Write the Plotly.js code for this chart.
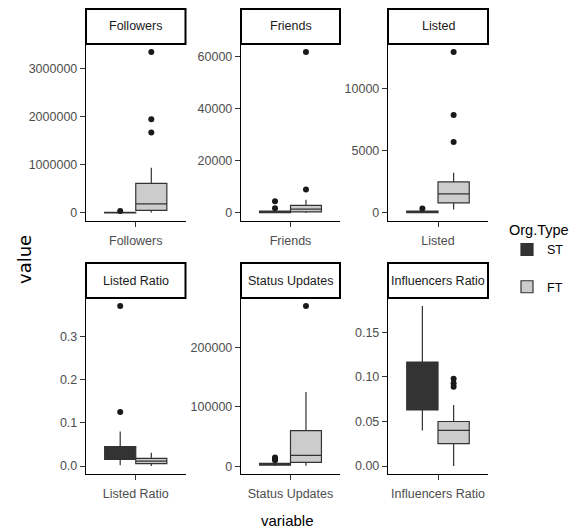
<!DOCTYPE html>
<html><head><meta charset="utf-8">
<script src="https://cdn.plot.ly/plotly-3.0.1.min.js"></script>
<style>html,body{margin:0;padding:0;background:#fff}#chart{width:578px;height:531px}</style>
</head><body><div id="chart"></div>
<script>
// ---- data ----
const variables = ["Followers", "Friends", "Listed", "Listed Ratio", "Status Updates", "Influencers Ratio"];
const orgTypes = ["ST", "FT"];

const stLowerFence = [0, 0, 0, 0.002, 500, 0.040];
const stQ1 = [2000, 100, 20, 0.0154, 2000, 0.063];
const stMedian = [8000, 300, 60, 0.025, 3000, 0.080];
const stQ3 = [15000, 700, 150, 0.0446, 5000, 0.1167];
const stUpperFence = [25000, 1300, 250, 0.080, 7000, 0.1797];
const stOutliers = [[40000], [1800, 4500], [350], [0.125, 0.370], [10000, 13000, 15000], []];

const ftLowerFence = [10000, 0, 270, 0.0, 1000, 0.0];
const ftQ1 = [55000, 400, 810, 0.0055, 6700, 0.0252];
const ftMedian = [188000, 1500, 1540, 0.0115, 18300, 0.040];
const ftQ3 = [614000, 2900, 2500, 0.0177, 60000, 0.050];
const ftUpperFence = [942000, 5100, 3240, 0.0306, 125000, 0.0685];
const ftOutliers = [[1675000, 1950000, 3350000], [9000, 61900], [5730, 7900, 12980], [], [269500], [0.089, 0.093, 0.098]];

const yTickVals = [[0, 1000000, 2000000, 3000000], [0, 20000, 40000, 60000], [0, 5000, 10000],
                   [0, 0.1, 0.2, 0.3], [0, 100000, 200000], [0, 0.05, 0.10, 0.15]];
const yTickText = [["0", "1000000", "2000000", "3000000"], ["0", "20000", "40000", "60000"], ["0", "5000", "10000"],
                   ["0.0", "0.1", "0.2", "0.3"], ["0", "100000", "200000"], ["0.00", "0.05", "0.10", "0.15"]];

// ---- layout / style ----
const W = 578, H = 531;
const FONT = '"Liberation Sans", Arial, sans-serif';
const colPx = [[86, 185.5], [241, 340], [388, 488]];
const rowPx = [[44, 221], [298, 474]];
const STRIP_H = 35;
const GROUP_WIDTH = 0.75;          // ggplot default box width (dodged)
const fills = {ST: "#333333", FT: "#CCCCCC"};
const series = {
  ST: {lf: stLowerFence, q1: stQ1, med: stMedian, q3: stQ3, uf: stUpperFence, out: stOutliers},
  FT: {lf: ftLowerFence, q1: ftQ1, med: ftMedian, q3: ftQ3, uf: ftUpperFence, out: ftOutliers}
};
const px2x = p => p / W;
const px2y = p => 1 - p / H;

const traces = [];
const layout = {
  width: W, height: H,
  margin: {l: 0, r: 0, t: 0, b: 0},
  paper_bgcolor: "#fff", plot_bgcolor: "#fff",
  boxmode: "overlay",
  showlegend: true,
  legend: {
    x: px2x(507), y: px2y(216), xanchor: "left", yanchor: "top",
    title: {text: "Org.Type", font: {family: FONT, size: 14.5, color: "#000"}},
    font: {family: FONT, size: 12.5, color: "#000"},
    tracegroupgap: 18, bgcolor: "rgba(0,0,0,0)"
  },
  shapes: [], annotations: []
};

const slotWidth = GROUP_WIDTH / orgTypes.length;

variables.forEach((v, i) => {
  const k = i + 1;
  const ax = k === 1 ? "" : String(k);
  const col = colPx[i % 3], row = rowPx[Math.floor(i / 3)];
  let lo = Infinity, hi = -Infinity;

  orgTypes.forEach((o, j) => {
    const s = series[o];
    const off = -GROUP_WIDTH / 2 + slotWidth * (j + 0.5);   // dodge position within the category
    traces.push({
      type: "box", name: o, legendgroup: o, showlegend: i === 0,
      x: [off], width: slotWidth,
      q1: [s.q1[i]], median: [s.med[i]], q3: [s.q3[i]],
      lowerfence: [s.lf[i]], upperfence: [s.uf[i]],
      boxpoints: false, whiskerwidth: 0,
      fillcolor: fills[o], line: {color: "#333333", width: 1.2},
      xaxis: "x" + ax, yaxis: "y" + ax
    });
    if (s.out[i].length) {
      traces.push({
        type: "scatter", mode: "markers", name: o, legendgroup: o, showlegend: false,
        x: s.out[i].map(() => off), y: s.out[i],
        marker: {color: "#1a1a1a", size: 6},
        xaxis: "x" + ax, yaxis: "y" + ax
      });
    }
    [s.lf[i], s.uf[i], s.q1[i], s.q3[i]].concat(s.out[i]).forEach(val => {
      lo = Math.min(lo, val); hi = Math.max(hi, val);
    });
  });

  const pad = (hi - lo) * 0.05;
  const common = {
    showgrid: false, zeroline: false, showline: true, linecolor: "#000", linewidth: 1.2,
    ticks: "outside", ticklen: 5, tickwidth: 1, tickcolor: "#333",
    tickfont: {family: FONT, size: 12.5, color: "#4D4D4D"}, fixedrange: true
  };
  layout["xaxis" + ax] = Object.assign({}, common, {
    domain: [px2x(col[0]), px2x(col[1])], anchor: "y" + ax,
    range: [-0.6, 0.6], tickvals: [0], ticktext: [v], ticklabelstandoff: 3
  });
  layout["yaxis" + ax] = Object.assign({}, common, {
    domain: [px2y(row[1]), px2y(row[0])], anchor: "x" + ax,
    range: [lo - pad, hi + pad], tickvals: yTickVals[i], ticktext: yTickText[i]
  });

  // facet strip
  layout.shapes.push({
    type: "rect", xref: "paper", yref: "paper",
    x0: px2x(col[0]), x1: px2x(col[1]), y0: px2y(row[0]), y1: px2y(row[0] - STRIP_H),
    line: {color: "#000", width: 2}, fillcolor: "#fff", layer: "above"
  });
  layout.annotations.push({
    xref: "paper", yref: "paper", x: px2x((col[0] + col[1]) / 2), y: px2y(row[0] - STRIP_H / 2),
    text: v, showarrow: false, xanchor: "center", yanchor: "middle",
    font: {family: FONT, size: 12.5, color: "#1A1A1A"}
  });
});

// axis titles
layout.annotations.push({
  xref: "paper", yref: "paper", x: px2x(287), y: px2y(520), text: "variable", showarrow: false,
  xanchor: "center", yanchor: "middle", font: {family: FONT, size: 15, color: "#000"}
});
layout.annotations.push({
  xref: "paper", yref: "paper", x: px2x(24), y: px2y(260), text: "value", showarrow: false,
  textangle: -90, xanchor: "center", yanchor: "middle", font: {family: '"DejaVu Sans", sans-serif', size: 18, color: "#000"}
});

Plotly.newPlot("chart", traces, layout, {displayModeBar: false, staticPlot: true});
</script>
</body></html>
